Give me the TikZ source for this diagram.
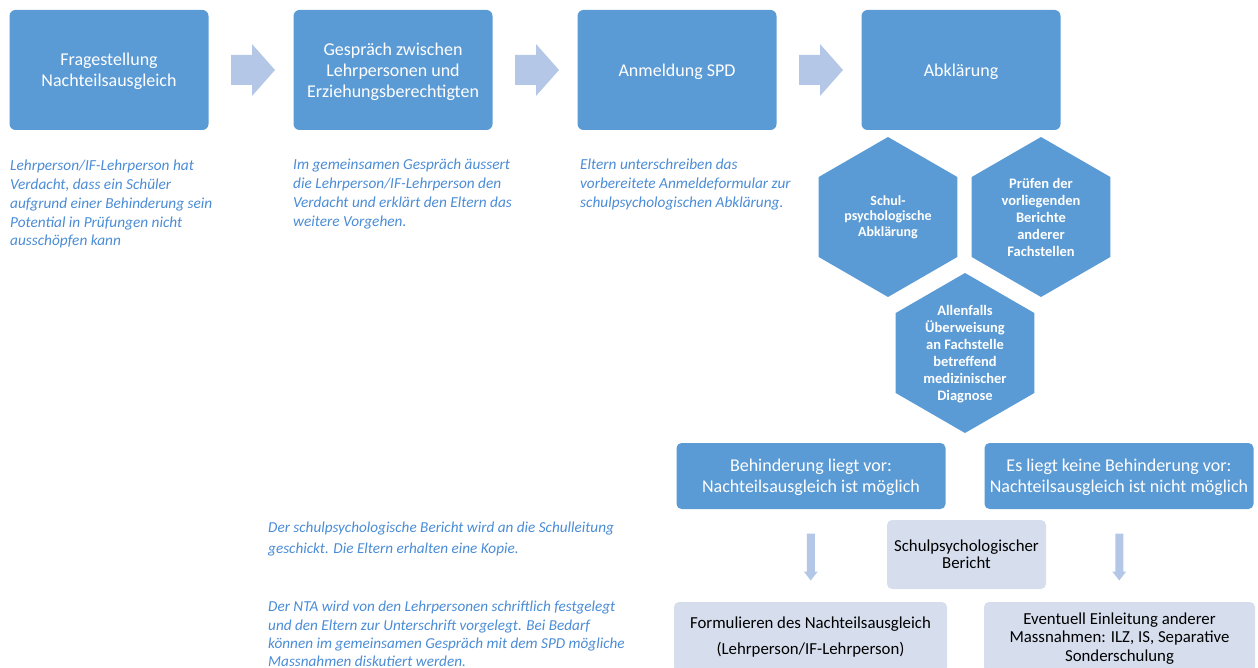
\documentclass[tikz,border=0pt]{standalone}
\usepackage{fontspec}
\setmainfont{Carlito}
\usetikzlibrary{calc, shapes.geometric}

\definecolor{boxblue}{RGB}{91,155,213}
\definecolor{arrowblue}{RGB}{180,199,231}
\definecolor{paleblue}{RGB}{214,222,238}
\definecolor{noteblue}{RGB}{74,140,214}

\tikzset{
  stepbox/.style={fill=boxblue, rounded corners=6pt, text=white, align=center,
    minimum width=199pt, minimum height=120pt, inner sep=0pt, text depth=0pt,
    font=\fontsize{18}{21}\selectfont},
  resultbox/.style={fill=boxblue, rounded corners=5pt, text=white, align=center,
    minimum width=269pt, minimum height=66pt, inner sep=0pt, text depth=0pt,
    font=\fontsize{18}{21}\selectfont},
  palebox/.style={fill=paleblue, rounded corners=5pt, text=black, align=center,
    inner sep=0pt, font=\fontsize{16.8}{18.5}\selectfont},
  hexbox/.style={regular polygon, regular polygon sides=6, shape border rotate=30,
    fill=boxblue, minimum size=160pt, inner sep=0pt, text=white, align=center,
    font=\bfseries\fontsize{14.5}{17}\selectfont},
  note/.style={text=noteblue, anchor=north west, inner sep=0pt, align=left,
    font=\itshape\fontsize{15.3}{18.75}\selectfont},
  rarrow/.pic={\fill[arrowblue] (-22,-15) -- (-1,-15) -- (-1,-26) -- (22,0)
    -- (-1,26) -- (-1,15) -- (-22,15) -- cycle;},
  darrow/.pic={\fill[arrowblue] (-4,-22) -- (4,-22) -- (4,16) -- (7,16)
    -- (0,25) -- (-7,16) -- (-4,16) -- cycle;}
}

\begin{document}
\begin{tikzpicture}[x=1pt, y=-1pt]
  \useasboundingbox (0,0) rectangle (1258,668);

  % Top row
  \node[stepbox] (frage) at (109,70) {Fragestellung\\Nachteilsausgleich};
  \node[stepbox] (gespraech) at (393,70) {Gespräch zwischen\\Lehrpersonen und\\Erziehungsberechtigten};
  \node[stepbox] (anmeldung) at (677,70) {Anmeldung SPD};
  \node[stepbox] (abklaerung) at (961,70) {Abklärung};
  \foreach \a/\b in {frage/gespraech, gespraech/anmeldung, anmeldung/abklaerung}
    \path ($(\a.east)!0.5!(\b.west)$) ++(2,0) pic {rarrow};

  % Notes under the top row
  \node[note] (note1) at (10,160) {Lehrperson/IF-Lehrperson hat\\Verdacht, dass ein Schüler\\aufgrund einer Behinderung sein\\Potential in Prüfungen nicht\\ausschöpfen kann};
  \node[note] (note2) at (293,159) {Im gemeinsamen Gespräch äussert\\die Lehrperson/IF-Lehrperson den\\Verdacht und erklärt den Eltern das\\weitere Vorgehen.};
  \node[note] (note3) at (580,159) {Eltern unterschreiben das\\vorbereitete Anmeldeformular zur\\schulpsychologischen Abklärung.};

  % Hexagons
  \node[hexbox, font=\bfseries\fontsize{14}{15.5}\selectfont] (schulpsy) at (888,217) {Schul-\\psychologische\\Abklärung};
  \node[hexbox] (pruefen) at (1041,217) {Prüfen der\\vorliegenden\\Berichte\\anderer\\Fachstellen};
  \node[hexbox, text depth=0pt] (ueberweis) at (965,353) {Allenfalls\\Überweisung\\an Fachstelle\\betreffend\\medizinischer\\Diagnose};

  % Result
  \node[resultbox] (liegtvor) at (811,476) {Behinderung liegt vor:\\Nachteilsausgleich ist möglich};
  \node[resultbox] (keine) at (1119,476) {Es liegt keine Behinderung vor:\\Nachteilsausgleich ist nicht möglich};
  \node[palebox, minimum width=159pt, minimum height=69pt, font=\fontsize{16.8}{17}\selectfont] (bericht) at (966.5,554.5) {Schulpsychologischer\\Bericht};
  \node[palebox, minimum width=273pt, minimum height=70pt] (formul) at (810.5,637) {Formulieren des Nachteilsausgleich\\[7pt](Lehrperson/IF-Lehrperson)};
  \node[palebox, minimum width=271pt, minimum height=70pt, text depth=0pt] (massn) at (1119.5,637) {Eventuell Einleitung anderer\\Massnahmen: ILZ, IS, Separative\\Sonderschulung};
  \foreach \a/\b in {liegtvor/formul, keine/massn}
    \path ($(\a.south)!0.5!(\b.north)$) pic {darrow};

  % Notes on the left
  \node[note, font=\itshape\fontsize{15.2}{21}\selectfont] (note4) at (268,522) {Der schulpsychologische Bericht wird an die Schulleitung\\geschickt. Die Eltern erhalten eine Kopie.};
  \node[note, font=\itshape\fontsize{15.2}{18.3}\selectfont] (note5) at (268,601) {Der NTA wird von den Lehrpersonen schriftlich festgelegt\\und den Eltern zur Unterschrift vorgelegt. Bei Bedarf\\können im gemeinsamen Gespräch mit dem SPD mögliche\\Massnahmen diskutiert werden.};
\end{tikzpicture}
\end{document}
